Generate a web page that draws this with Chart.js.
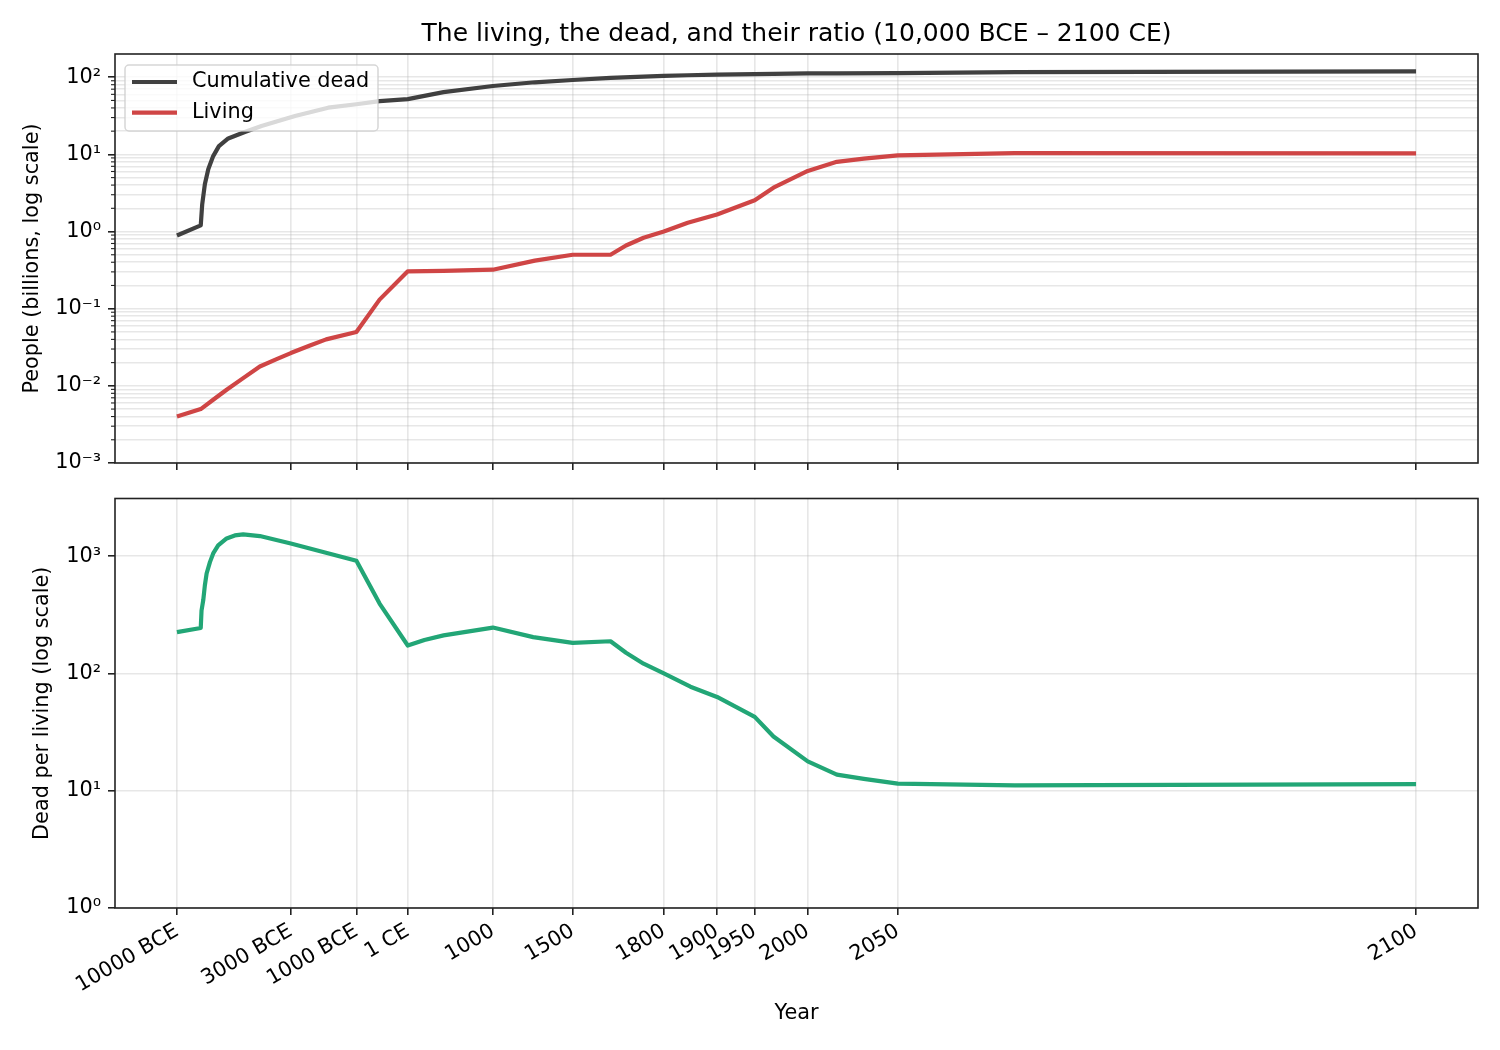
<!DOCTYPE html>
<html>
<head>
<meta charset="utf-8">
<title>The living, the dead, and their ratio</title>
<script src="https://cdn.jsdelivr.net/npm/chart.js@4.4.1/dist/chart.umd.min.js"></script>
<style>
    html, body { margin: 0; padding: 0; background: #fff; }
    #wrap { position: relative; width: 1500px; height: 1050px; overflow: hidden; }
    #wrap canvas { position: absolute; left: 0; }
    #topChart { top: 0; }
    #bottomChart { top: 470px; }
</style>
</head>
<body>
<div id="wrap">
    <canvas id="topChart" width="1500" height="483"></canvas>
    <canvas id="bottomChart" width="1500" height="580"></canvas>
</div>
<script>
// Năm: số âm = BCE. Trục x là log(2101 - năm), đảo chiều
const tickYears = [-10000, -3000, -1000, 1, 1000, 1500, 1800, 1900, 1950, 2000, 2050, 2100];
const tickLabels = ['10000 BCE', '3000 BCE', '1000 BCE', '1 CE', '1000', '1500', '1800', '1900', '1950', '2000', '2050', '2100'];

const topDecades = [-3, -2, -1, 0, 1, 2];
const ratioDecades = [0, 1, 2, 3];

// Cumulative dead (billions)
const deadYears = [-10000, -8000, -7890, -7690, -7440, -7090, -6700, -6100, -5130, -4270, -2840, -1740, -1000, -500, 1,
    500, 1000, 1300, 1500, 1650, 1750, 1800, 1850, 1900, 1950, 1970, 2000, 2020, 2050, 2080, 2100];
const deadValues = [0.89, 1.2, 2.24, 4.1, 6.4, 9.5, 12.8, 16.1, 19.5, 23.3, 31.4, 40.3, 44.6, 49, 52,
    64, 77, 86, 92, 98, 102, 104, 106, 108, 110, 110.5, 112, 112.5, 113, 116.5, 119];

// Living (billions)
const livingYears = [-10000, -8000, -7090, -6200, -5220, -4350, -3580, -3000, -2310, -1800, -1000, -500, 1, 500, 1000,
    1300, 1500, 1650, 1700, 1750, 1800, 1850, 1900, 1950, 1970, 2000, 2020, 2035, 2050, 2080, 2100];
const livingValues = [0.0040, 0.0050, 0.0066, 0.0089, 0.0126, 0.0178, 0.0222, 0.0266, 0.0334, 0.040, 0.050, 0.131, 0.305, 0.31, 0.32,
    0.42, 0.50, 0.50, 0.66, 0.83, 1.0, 1.3, 1.66, 2.55, 3.7, 6.1, 8.0, 8.8, 9.7, 10.4, 10.3];

// Dead per living
const ratioYears = [-10000, -8000, -7940, -7810, -7690, -7560, -7320, -7090, -6750, -6200, -5700, -5220, -4350, -3000,
    -1000, -500, 1, 250, 500, 1000, 1290, 1500, 1650, 1700, 1750, 1800, 1855, 1900, 1950, 1970, 2000, 2020, 2035,
    2050, 2080, 2100];
const ratioValues = [225, 244, 344, 421, 563, 711, 889, 1054, 1233, 1416, 1501, 1531, 1483, 1283,
    912, 394, 173, 193, 211, 246, 204, 182, 188, 150, 121, 100, 77, 63, 42.6, 29, 17.8, 13.7, 12.6,
    11.5, 11.1, 11.4];

const REF_YEAR = 2101;
const X_MIN = 0.625;
const X_MAX = 19360;

const FONT = "'DejaVu Sans', 'Liberation Sans', sans-serif";
const FONT_SIZE = 20.8;
const GRID = 'rgba(176, 176, 176, 0.3)';
const AXIS = '#222';
const LINE_WIDTH = 4.2;

Chart.defaults.font.family = FONT;
Chart.defaults.font.size = FONT_SIZE;
Chart.defaults.color = '#000';

const SUP = { '-': '\u207B', '0': '\u2070', '1': '\u00B9', '2': '\u00B2', '3': '\u00B3',
    '4': '\u2074', '5': '\u2075', '6': '\u2076', '7': '\u2077', '8': '\u2078', '9': '\u2079' };

function powerLabel(value) {
    const exp = String(Math.round(Math.log10(value)));
    return '10' + exp.split('').map(c => SUP[c]).join('');
}

function toPoints(years, values) {
    return years.map((y, i) => ({ x: REF_YEAR - y, y: values[i] }));
}

function logTicks(decades, withMinor, max) {
    const ticks = [];
    decades.forEach(e => {
        ticks.push({ value: Math.pow(10, e), major: true });
        if (withMinor) {
            for (let m = 2; m <= 9; m++) {
                const v = m * Math.pow(10, e);
                if (v < max) ticks.push({ value: v, major: false });
            }
        }
    });
    return ticks;
}

function xAxis(showLabels, height) {
    return {
        type: 'logarithmic',
        reverse: true,
        bounds: 'data',
        min: X_MIN,
        max: X_MAX,
        afterBuildTicks: scale => {
            scale.ticks = tickYears.map(y => ({ value: REF_YEAR - y }));
        },
        afterFit: scale => { scale.height = height; },
        ticks: {
            display: showLabels,
            autoSkip: false,
            minRotation: 30,
            maxRotation: 30,
            padding: 4,
            color: '#000',
            callback: (value, index) => tickLabels[index]
        },
        grid: { color: GRID, lineWidth: 1.6, tickColor: AXIS, tickWidth: 1.6, tickLength: 7 },
        border: { display: false },
        title: { display: showLabels, text: 'Year', padding: { top: 0, bottom: 23.5 } }
    };
}

function yAxis(decades, max, withMinor, label, titlePad) {
    return {
        type: 'logarithmic',
        bounds: 'data',
        min: Math.pow(10, decades[0]),
        max: max,
        afterBuildTicks: scale => { scale.ticks = logTicks(decades, withMinor, max); },
        afterFit: scale => { scale.width = 115; },
        ticks: {
            autoSkip: false,
            padding: 7,
            color: '#000',
            callback: (value, index, ticks) => (ticks[index].major ? powerLabel(value) : '')
        },
        grid: {
            color: GRID,
            lineWidth: 1.6,
            tickLength: 7,
            tickWidth: 1.6,
            tickColor: ctx => (ctx.tick && ctx.tick.major ? AXIS : 'rgba(0,0,0,0)')
        },
        border: { display: false },
        title: { display: true, text: label, padding: { top: titlePad, bottom: 0 } }
    };
}

// Khung trục + vạch phụ ngắn
const framePlugin = {
    id: 'frame',
    afterDraw(chart) {
        const { ctx, chartArea } = chart;
        const ys = chart.scales.y;
        ctx.save();
        ctx.strokeStyle = AXIS;
        ctx.lineWidth = 1.1;
        ys.ticks.forEach(t => {
            if (t.major) return;
            const py = ys.getPixelForValue(t.value);
            ctx.beginPath();
            ctx.moveTo(chartArea.left - 4, py);
            ctx.lineTo(chartArea.left, py);
            ctx.stroke();
        });
        ctx.lineWidth = 1.6;
        ctx.strokeRect(chartArea.left, chartArea.top, chartArea.right - chartArea.left, chartArea.bottom - chartArea.top);
        ctx.restore();
    }
};

// Chú thích bên trong vùng vẽ (góc trên trái)
const innerLegendPlugin = {
    id: 'innerLegend',
    afterDatasetsDraw(chart) {
        const { ctx, chartArea } = chart;
        const x0 = chartArea.left + 10;
        const y0 = chartArea.top + 11;
        const w = 253, h = 66, r = 4;
        ctx.save();
        ctx.beginPath();
        ctx.moveTo(x0 + r, y0);
        ctx.arcTo(x0 + w, y0, x0 + w, y0 + h, r);
        ctx.arcTo(x0 + w, y0 + h, x0, y0 + h, r);
        ctx.arcTo(x0, y0 + h, x0, y0, r);
        ctx.arcTo(x0, y0, x0 + w, y0, r);
        ctx.closePath();
        ctx.fillStyle = 'rgba(255, 255, 255, 0.8)';
        ctx.fill();
        ctx.strokeStyle = 'rgba(204, 204, 204, 0.8)';
        ctx.lineWidth = 1.5;
        ctx.stroke();

        ctx.font = FONT_SIZE + 'px ' + FONT;
        ctx.textBaseline = 'middle';
        ctx.textAlign = 'left';
        chart.data.datasets.forEach((ds, i) => {
            const cy = y0 + 17 + i * 30.7;
            ctx.beginPath();
            ctx.moveTo(x0 + 7, cy);
            ctx.lineTo(x0 + 52, cy);
            ctx.strokeStyle = ds.borderColor;
            ctx.lineWidth = ds.borderWidth;
            ctx.stroke();
            ctx.fillStyle = '#000';
            ctx.fillText(ds.label, x0 + 67, cy);
        });
        ctx.restore();
    }
};

function lineDataset(label, years, values, color) {
    return {
        label: label,
        data: toPoints(years, values),
        borderColor: color,
        backgroundColor: color,
        borderWidth: LINE_WIDTH,
        borderJoinStyle: 'round',
        pointRadius: 0,
        tension: 0,
        fill: false
    };
}

const baseOptions = {
    responsive: false,
    animation: false,
    devicePixelRatio: 1,
    events: [],
    parsing: false
};

new Chart(document.getElementById('topChart').getContext('2d'), {
    type: 'line',
    data: {
        datasets: [
            lineDataset('Cumulative dead', deadYears, deadValues, '#404040'),
            lineDataset('Living', livingYears, livingValues, '#cf4545')
        ]
    },
    options: Object.assign({}, baseOptions, {
        layout: { padding: { left: 0, right: 22, top: 0, bottom: 0 } },
        plugins: {
            legend: { display: false },
            tooltip: { enabled: false },
            title: {
                display: true,
                fullSize: false,
                text: 'The living, the dead, and their ratio (10,000 BCE \u2013 2100 CE)',
                color: '#000',
                font: { size: 25, weight: 'normal' },
                padding: { top: 19, bottom: 5 }
            }
        },
        scales: {
            x: xAxis(false, 20),
            y: yAxis(topDecades, 200, true, 'People (billions, log scale)', 20.5)
        }
    }),
    plugins: [innerLegendPlugin, framePlugin]
});

new Chart(document.getElementById('bottomChart').getContext('2d'), {
    type: 'line',
    data: {
        datasets: [
            lineDataset('Dead per living', ratioYears, ratioValues, '#22a676')
        ]
    },
    options: Object.assign({}, baseOptions, {
        layout: { padding: { left: 0, right: 22, top: 28.5, bottom: 0 } },
        plugins: {
            legend: { display: false },
            tooltip: { enabled: false }
        },
        scales: {
            x: xAxis(true, 142),
            y: yAxis(ratioDecades, 3100, false, 'Dead per living (log scale)', 30.5)
        }
    }),
    plugins: [framePlugin]
});
</script>
</body>
</html>
